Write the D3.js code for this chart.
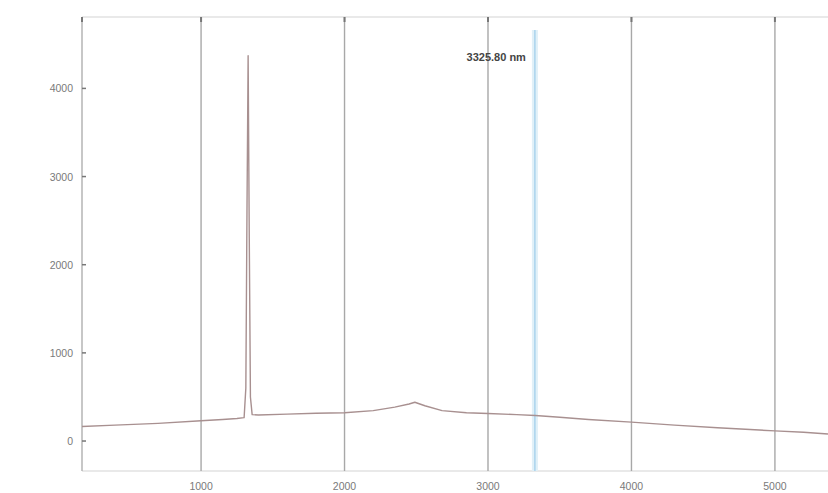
<!DOCTYPE html>
<html>
<head>
<meta charset="utf-8">
<script src="https://cdn.jsdelivr.net/npm/d3@7"></script>
<style>
  html, body { margin: 0; padding: 0; background: #fff; }
  svg { display: block; }
</style>
</head>
<body>
<div id="chart"></div>
<script>
// spectrum (wavelength nm, intensity)
const wavelengths = [170, 400, 700, 1000, 1150, 1250, 1300, 1312, 1320, 1328, 1336, 1344, 1356, 1400, 1600, 1800, 2000, 2200, 2350, 2450, 2490, 2560, 2680, 2850, 3000, 3200, 3330, 3500, 3700, 4000, 4300, 4600, 5000, 5200, 5370];
const intensities = [165, 180, 200, 230, 245, 255, 265, 600, 2600, 4370, 2300, 500, 300, 295, 305, 315, 320, 345, 385, 420, 440, 400, 345, 320, 312, 300, 290, 270, 245, 215, 180, 150, 115, 100, 80];

const xTicks = [1000, 2000, 3000, 4000, 5000];
const yTicks = [0, 1000, 2000, 3000, 4000];
const cursorWl = 3327;
const cursorLabel = "3325.80 nm";

(function () {
  const svgWidth = 828, svgHeight = 493;
  const plotLeft = 82, plotRight = 828, plotTop = 17, plotBottom = 471;

  const svg = d3.select("#chart").append("svg")
    .attr("width", svgWidth)
    .attr("height", svgHeight);

  const x = d3.scaleLinear().domain([170, 5370]).range([plotLeft, plotRight]);
  const y = d3.scaleLinear().domain([-340, 4810]).range([plotBottom, plotTop]);

  // frame
  svg.append("line")
    .attr("x1", plotLeft).attr("x2", plotRight).attr("y1", plotTop).attr("y2", plotTop)
    .attr("stroke", "#e2e2e2").attr("stroke-width", 1.5);
  svg.append("line")
    .attr("x1", plotLeft).attr("x2", plotRight).attr("y1", plotBottom).attr("y2", plotBottom)
    .attr("stroke", "#e2e2e2").attr("stroke-width", 1.5);
  svg.append("line")
    .attr("x1", plotLeft).attr("x2", plotLeft).attr("y1", plotTop).attr("y2", plotBottom)
    .attr("stroke", "#b4b4b4").attr("stroke-width", 1.5);

  // vertical grid at x ticks
  svg.append("g")
    .selectAll("line")
    .data(xTicks)
    .join("line")
    .attr("x1", d => x(d)).attr("x2", d => x(d))
    .attr("y1", plotTop).attr("y2", plotBottom)
    .attr("stroke", "#a8a8a8").attr("stroke-width", 1.4);

  // little tick marks on top edge
  svg.append("g")
    .selectAll("line")
    .data([170].concat(xTicks))
    .join("line")
    .attr("x1", d => x(d)).attr("x2", d => x(d))
    .attr("y1", plotTop).attr("y2", plotTop + 5)
    .attr("stroke", "#777").attr("stroke-width", 2);

  // x axis labels
  svg.append("g")
    .attr("font-family", "Liberation Sans, sans-serif")
    .attr("font-size", 10.5)
    .attr("fill", "#7a7a7a")
    .attr("text-anchor", "middle")
    .selectAll("text")
    .data(xTicks)
    .join("text")
    .attr("x", d => x(d))
    .attr("y", 490)
    .text(d => d);

  // y axis ticks + labels
  const yAxis = svg.append("g");
  yAxis.selectAll("line")
    .data(yTicks)
    .join("line")
    .attr("x1", plotLeft).attr("x2", plotLeft + 4)
    .attr("y1", d => y(d)).attr("y2", d => y(d))
    .attr("stroke", "#777").attr("stroke-width", 1.5);
  yAxis.append("g")
    .attr("font-family", "Liberation Sans, sans-serif")
    .attr("font-size", 10.5)
    .attr("fill", "#7a7a7a")
    .attr("text-anchor", "end")
    .selectAll("text")
    .data(yTicks)
    .join("text")
    .attr("x", 73)
    .attr("y", d => y(d) + 4)
    .text(d => d);

  // cursor band
  svg.append("rect")
    .attr("x", x(cursorWl) - 3).attr("width", 6)
    .attr("y", 30).attr("height", plotBottom - 30)
    .attr("fill", "#e0f0f8");
  svg.append("line")
    .attr("x1", x(cursorWl)).attr("x2", x(cursorWl))
    .attr("y1", 30).attr("y2", plotBottom)
    .attr("stroke", "#9ccbea").attr("stroke-width", 1.2);

  svg.append("text")
    .attr("x", x(cursorWl) - 9)
    .attr("y", 61)
    .attr("text-anchor", "end")
    .attr("font-family", "Liberation Sans, sans-serif")
    .attr("font-size", 11)
    .attr("font-weight", "bold")
    .attr("fill", "#444")
    .text(cursorLabel);

  // spectrum line
  const data = wavelengths.map((w, i) => ({ w, v: intensities[i] }));
  const line = d3.line().x(d => x(d.w)).y(d => y(d.v));
  svg.append("path")
    .datum(data)
    .attr("d", line)
    .attr("fill", "none")
    .attr("stroke", "#a89090")
    .attr("stroke-width", 1.4)
    .attr("stroke-linejoin", "round");
})();
</script>
</body>
</html>
